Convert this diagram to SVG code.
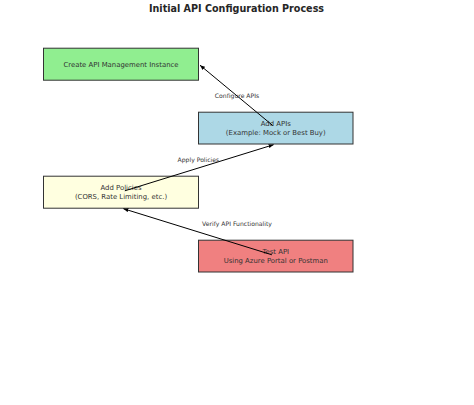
<svg xmlns="http://www.w3.org/2000/svg" width="474" height="405" viewBox="0 0 474 405">
<style>
.box{stroke:#333333;stroke-width:1}
.t{font-family:"DejaVu Sans",sans-serif;font-size:6.9px;fill:#333333;text-anchor:middle}
.lbl{font-family:"DejaVu Sans",sans-serif;font-size:6.1px;fill:#333333;text-anchor:middle}
.title{font-family:"DejaVu Sans",sans-serif;font-size:9.6px;font-weight:bold;fill:#262626;text-anchor:middle}
.c{stroke:#000000;stroke-width:1;fill:none}
</style>
<defs>
<marker id="ah" viewBox="0 0 10 10" refX="10" refY="5" markerWidth="5" markerHeight="5" orient="auto" markerUnits="userSpaceOnUse">
<path d="M0,1 L10,5 L0,9 Z" fill="#000000"/>
</marker>
</defs>
<rect width="474" height="405" fill="#ffffff"/>
<text class="title" x="236.5" y="12.4">Initial API Configuration Process</text>
<g id="node-create">
<rect class="box" x="43.5" y="48.2" width="155" height="32" fill="#90EE90"/>
<text class="t" x="121" y="66.5">Create API Management Instance</text>
</g>
<g id="node-addapis">
<rect class="box" x="198.5" y="112.2" width="154.5" height="31.8" fill="#ADD8E6"/>
<text class="t" x="275.75" y="126.3">Add APIs</text>
<text class="t" x="275.75" y="134.6">(Example: Mock or Best Buy)</text>
</g>
<g id="node-policies">
<rect class="box" x="43.5" y="176.2" width="155" height="32" fill="#FFFFE0"/>
<text class="t" x="121" y="190.3">Add Policies</text>
<text class="t" x="121" y="198.6">(CORS, Rate Limiting, etc.)</text>
</g>
<g id="node-test">
<rect class="box" x="198.5" y="240.2" width="154.5" height="31.8" fill="#F08080"/>
<text class="t" x="275.75" y="254.3">Test API</text>
<text class="t" x="275.75" y="262.6">Using Azure Portal or Postman</text>
</g>
<g id="connectors">
<line class="c" x1="272.6" y1="125.4" x2="200" y2="65.2" marker-end="url(#ah)"/>
<line class="c" x1="124.8" y1="190.8" x2="273.6" y2="144.7" marker-end="url(#ah)"/>
<line class="c" x1="271.9" y1="254.8" x2="123.4" y2="208.7" marker-end="url(#ah)"/>
<text class="lbl" x="237" y="98.2">Configure APIs</text>
<text class="lbl" x="198.4" y="162.2">Apply Policies</text>
<text class="lbl" x="237" y="226.2">Verify API Functionality</text>
</g>
</svg>
